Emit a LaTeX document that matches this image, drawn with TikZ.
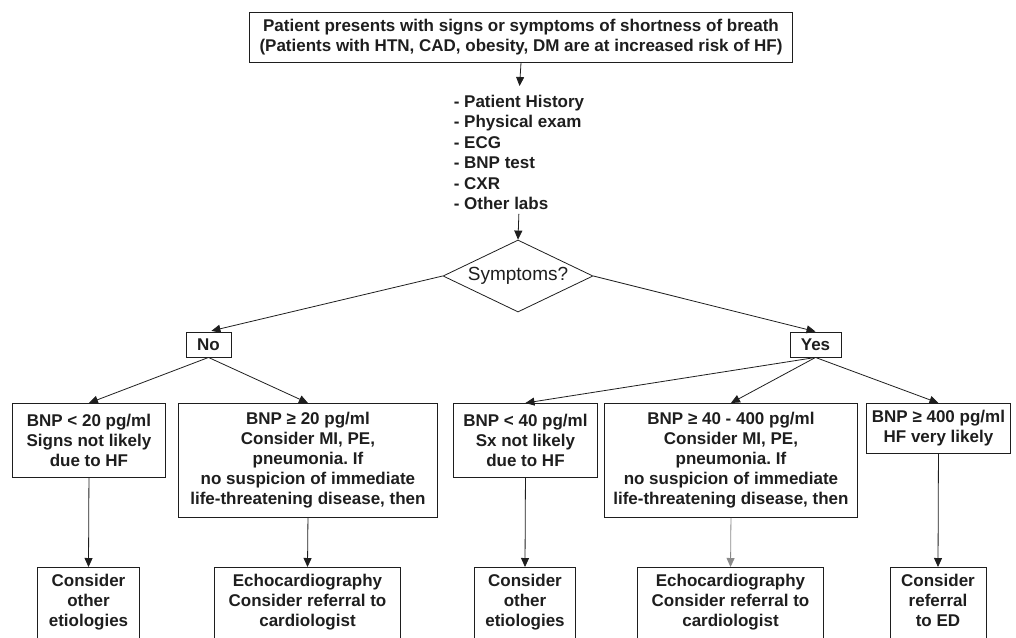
\documentclass[tikz,border=0pt]{standalone}
\usepackage{fontspec}
\setmainfont{Liberation Sans}
\usetikzlibrary{shapes.geometric,arrows.meta}
\definecolor{ink}{HTML}{1E1E1E}
\definecolor{lightink}{HTML}{8A8A8A}
\frenchspacing
\begin{document}
\begin{tikzpicture}[x=1pt,y=-1pt,
  every node/.style={text=ink, font=\fontsize{17}{20}\selectfont\bfseries},
  box/.style={draw=ink, line width=0.9pt, align=center, inner sep=0pt},
  lowbox/.style={box, anchor=north, inner ysep=7pt},
  conn/.style={draw=ink, line width=0.8pt},
  arr/.style={conn, -{Triangle[length=9pt,width=8pt]}},
]
\useasboundingbox (0,0) rectangle (1016,637);
\clip (0,0) rectangle (1016,637);

% top
\node[box, inner xsep=10pt, inner ysep=7pt, anchor=north] (top) at (521,12)
  {Patient presents with signs or symptoms of shortness of breath\\(Patients with HTN, CAD, obesity, DM are at increased risk of HF)};

\node[align=left, anchor=north, inner sep=0pt, font=\fontsize{17}{20.4}\selectfont\bfseries] (list) at (519,95)
  {- Patient History\\- Physical exam\\- ECG\\- BNP test\\- CXR\\- Other labs};

\node[diamond, draw=ink, line width=0.8pt, aspect=2.08, minimum width=150pt, minimum height=72pt,
  inner sep=0pt, font=\fontsize{19}{22}\selectfont\mdseries] (sym) at (518,276) {Symptoms?};

\node[box, minimum width=45pt, minimum height=25pt] (no) at (208.5,344.5) {No};
\node[box, minimum width=51pt, minimum height=25pt] (yes) at (815.5,344.5) {Yes};

% second row
\node[box, anchor=north west, minimum width=153pt, minimum height=74pt] (a) at (12,403)
  {BNP < 20 pg/ml\\Signs not likely\\due to HF};
\node[box, anchor=north west, minimum width=259pt, minimum height=114pt] (b) at (178,403)
  {BNP ≥ 20 pg/ml\\Consider MI, PE,\\pneumonia. If\\no suspicion of immediate\\life-threatening disease, then};
\node[box, anchor=north west, minimum width=144pt, minimum height=74pt] (c) at (453,403)
  {BNP < 40 pg/ml\\Sx not likely\\due to HF};
\node[box, anchor=north west, minimum width=253pt, minimum height=114pt] (d) at (604,403)
  {BNP ≥ 40 - 400 pg/ml\\Consider MI, PE,\\pneumonia. If\\no suspicion of immediate\\life-threatening disease, then};
\node[box, anchor=north west, minimum width=144pt, minimum height=50pt] (e) at (866,403)
  {BNP ≥ 400 pg/ml\\HF very likely};

% third row (cut by the lower edge)
\node[lowbox, minimum width=102pt] (f) at (88.5,567) {Consider\\other\\etiologies\\ \strut};
\node[lowbox, minimum width=186pt] (g) at (307.5,567) {Echocardiography\\Consider referral to\\cardiologist\\ \strut};
\node[lowbox, minimum width=101pt] (h) at (525,567) {Consider\\other\\etiologies\\ \strut};
\node[lowbox, minimum width=186pt] (i) at (730.5,567) {Echocardiography\\Consider referral to\\cardiologist\\ \strut};
\node[lowbox, minimum width=96pt] (j) at (938,567) {Consider\\referral\\to ED\\ \strut};

% connectors
\draw[arr, shorten >=9pt] (top.south) -- (list.north);
\draw[arr, shorten <=4pt] (list.south) -- (sym.north);
\draw[arr, shorten >=3pt] (sym.west) -- (no.north);
\draw[arr] (sym.east) -- (yes.north);
\draw[arr] (no.south) -- (a.north);
\draw[arr] (no.south) -- (b.north);
\draw[arr] (yes.south) -- (c.north);
\draw[arr] (yes.south) -- (d.north);
\draw[arr] (yes.south) -- (e.north);
\draw[arr] (a.south) -- (f.north);
\draw[arr] (b.south) -- (g.north);
\draw[arr] (c.south) -- (h.north);
\draw[arr, draw=lightink] (d.south) -- (i.north);
\draw[arr] (e.south) -- (j.north);
\end{tikzpicture}
\end{document}
